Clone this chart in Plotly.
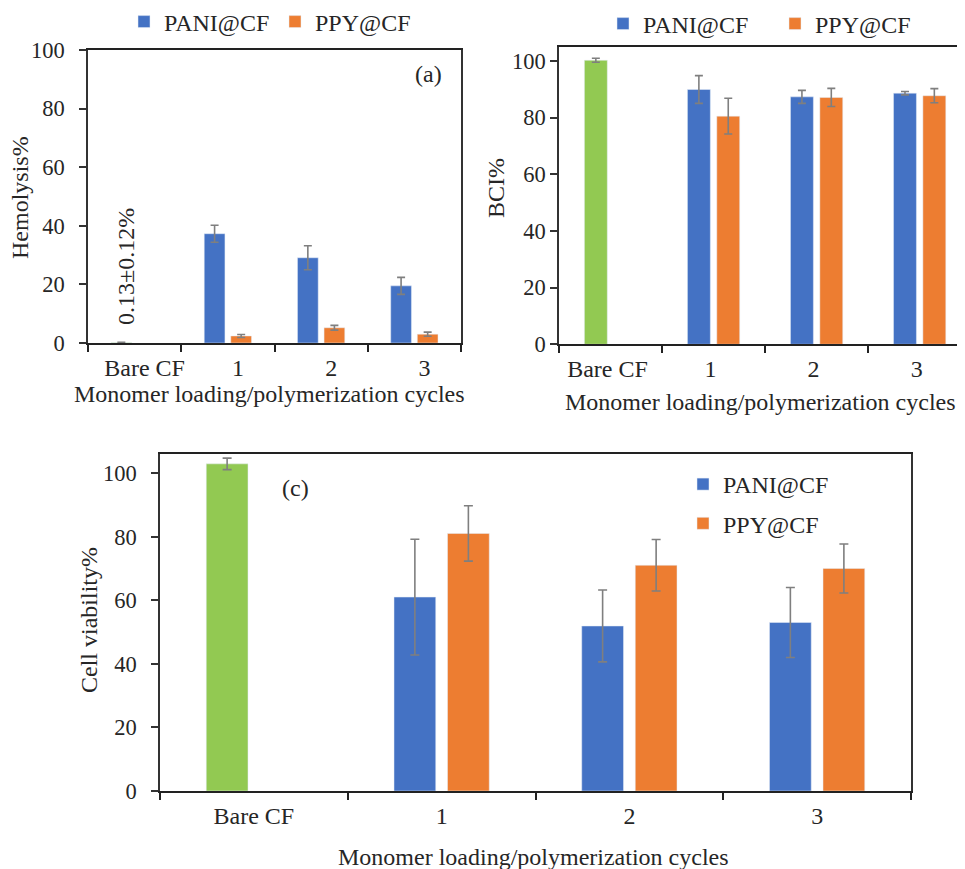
import plotly.graph_objects as go

categories = ["Bare CF", "1", "2", "3"]
cycles = ["1", "2", "3"]

# (a) Hemolysis %
hemo_bare = [0.13]
hemo_bare_err = [0.12]
hemo_pani = [37.3, 29.1, 19.5]
hemo_pani_err = [2.9, 4.1, 2.9]
hemo_ppy = [2.4, 5.2, 3.0]
hemo_ppy_err = [0.5, 0.8, 0.7]

# (b) BCI %
bci_bare = [100.2]
bci_bare_err = [0.7]
bci_pani = [89.9, 87.3, 88.6]
bci_pani_err = [4.9, 2.3, 0.6]
bci_ppy = [80.5, 87.1, 87.7]
bci_ppy_err = [6.3, 3.2, 2.5]

# (c) Cell viability %
cv_bare = [102.9]
cv_bare_err = [1.8]
cv_pani = [61.0, 51.9, 53.0]
cv_pani_err = [18.2, 11.3, 11.0]
cv_ppy = [81.0, 71.0, 70.0]
cv_ppy_err = [8.7, 8.1, 7.7]

BLUE = "#4472C4"
ORANGE = "#ED7D31"
GREEN = "#92C952"
ERR = "#7f7f7f"
FONT = "Liberation Serif"
TXT = "#262626"
FS = 24
TFS = 22.5

# the page body adds an 8px margin; lay out in page pixels
OFF = 8
W, H = 965 - OFF, 869 - OFF


def px_x(x):
    return (x - OFF) / W


def px_y(y):
    return 1 - (y - OFF) / H


fig = go.Figure()


def err(arr, w):
    return dict(type="data", array=arr, color=ERR, thickness=1.6, width=w, visible=True)


def add_panel(xa, ya, bare, bare_err, pani, pani_err, ppy, ppy_err, legend, tag, w):
    fig.add_trace(go.Bar(x=["Bare CF"], y=bare, error_y=err(bare_err, w), marker_color=GREEN,
                         offsetgroup=tag + "p", xaxis=xa, yaxis=ya, showlegend=False, legend=legend))
    fig.add_trace(go.Bar(x=cycles, y=pani, error_y=err(pani_err, w), marker_color=BLUE, name="PANI@CF",
                         offsetgroup=tag + "p", xaxis=xa, yaxis=ya, legend=legend,
                         legendgroup=tag + "g1"))
    fig.add_trace(go.Bar(x=cycles, y=ppy, error_y=err(ppy_err, w), marker_color=ORANGE, name="PPY@CF",
                         offsetgroup=tag + "q", xaxis=xa, yaxis=ya, legend=legend,
                         legendgroup=tag + "g2"))


add_panel("x", "y", hemo_bare, hemo_bare_err, hemo_pani, hemo_pani_err, hemo_ppy, hemo_ppy_err, "legend", "a", 4)
add_panel("x2", "y2", bci_bare, bci_bare_err, bci_pani, bci_pani_err, bci_ppy, bci_ppy_err, "legend2", "b", 4)
add_panel("x3", "y3", cv_bare, cv_bare_err, cv_pani, cv_pani_err, cv_ppy, cv_ppy_err, "legend3", "c", 4.5)

font = dict(family=FONT, size=FS, color=TXT)
tfont = dict(family=FONT, size=TFS, color=TXT)
xtitle = "Monomer loading/polymerization cycles"


def xaxis(domain, anchor, rng, shift=0):
    return dict(domain=domain, anchor=anchor, type="category", categoryorder="array",
                categoryarray=categories, range=rng, showline=True, linecolor="#222222",
                linewidth=2, mirror=True, ticks="outside", tickson="boundaries", ticklen=7,
                tickcolor="#222222", tickwidth=1.5, showgrid=False, tickfont=font,
                tickangle=0, automargin=False,
                ticklabelstandoff=2, ticklabelshift=shift)


def yaxis(domain, anchor, rng, dtick, standoff):
    return dict(domain=domain, anchor=anchor, range=rng, dtick=dtick, showline=True,
                linecolor="#333333", linewidth=1.5, mirror=True, ticks="outside", ticklen=7,
                tickcolor="#333333", tickwidth=1.5, showgrid=False, zeroline=False,
                tickfont=tfont, ticklabelstandoff=standoff, automargin=False)


def label(text, x, y, angle=0):
    return dict(text=text, x=px_x(x), y=px_y(y), xref="paper", yref="paper",
                xanchor="center", yanchor="middle", showarrow=False, font=font,
                textangle=angle)


fig.update_layout(
    width=W, height=H,
    margin=dict(l=0, r=0, t=0, b=0, autoexpand=False),
    paper_bgcolor="white", plot_bgcolor="white",
    barmode="group", bargap=0.43, bargroupgap=0.22,
    font=font,
    xaxis=xaxis([px_x(88), px_x(461)], "y", [-0.5, 3.5], 10),
    yaxis=yaxis([px_y(343), px_y(50)], "x", [0, 100], 20, 10),
    xaxis2=xaxis([px_x(559), 1.0], "y2", [-0.5, 3.44], -3),
    yaxis2=yaxis([px_y(344.3), px_y(46.7)], "x2", [0, 105], 20, 0),
    xaxis3=xaxis([px_x(160), px_x(911)], "y3", [-0.5, 3.5]),
    yaxis3=yaxis([px_y(791), px_y(454)], "x3", [0, 106], 20, 10),
    legend=dict(orientation="h", x=px_x(124), y=px_y(22), xanchor="left", yanchor="middle",
                font=font, bgcolor="rgba(0,0,0,0)", entrywidth=106, entrywidthmode="pixels"),
    legend2=dict(orientation="h", x=px_x(603), y=px_y(24), xanchor="left", yanchor="middle",
                 font=font, bgcolor="rgba(0,0,0,0)", entrywidth=127, entrywidthmode="pixels"),
    legend3=dict(orientation="v", x=px_x(683), y=px_y(462), xanchor="left", yanchor="top",
                 font=font, bgcolor="rgba(0,0,0,0)", tracegroupgap=5),
    annotations=[
        label("(a)", 428, 74),
        label("(c)", 295, 488),
        label("0.13±0.12%", 126, 267, -90),
        label("Hemolysis%", 20, 198, -90),
        label("BCI%", 496, 188, -90),
        label("Cell viability%", 89, 620, -90),
        label(xtitle, 269, 394),
        label(xtitle, 760, 402),
        label(xtitle, 533, 857),
    ],
)

fig.write_html("out.html")
